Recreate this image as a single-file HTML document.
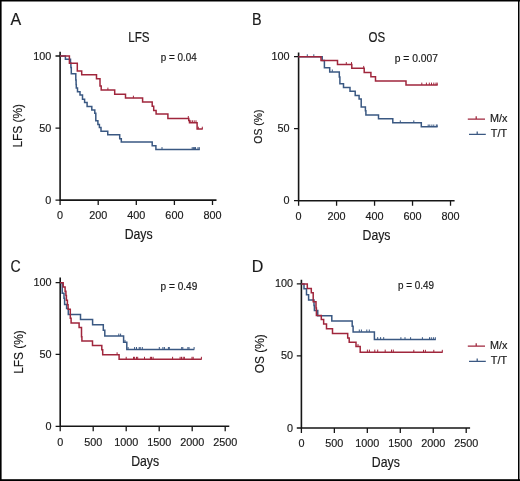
<!DOCTYPE html><html><head><meta charset="utf-8"><style>html,body{margin:0;padding:0;background:#fff;}svg{display:block;will-change:transform;} text{font-family:"Liberation Sans",sans-serif;fill:#1a1a1a;stroke:#1a1a1a;stroke-width:0.18px;}</style></head><body>
<svg width="520" height="481" viewBox="0 0 520 481">
<rect x="0" y="0" width="520" height="481" fill="#fff"/>
<path d="M60.1 51.8V200.1H216.5" fill="none" stroke="#161616" stroke-width="1.6"/>
<path d="M55.5 56.0H60.1M55.5 128.05H60.1M55.5 200.1H60.1M60.1 200.1V205.1M98.2 200.1V205.1M136.3 200.1V205.1M174.4 200.1V205.1M212.5 200.1V205.1" fill="none" stroke="#161616" stroke-width="1.3"/>
<text transform="translate(51.30 59.50) scale(0.92 1)" font-size="11.8" text-anchor="end">100</text>
<text transform="translate(51.30 131.55) scale(0.92 1)" font-size="11.8" text-anchor="end">50</text>
<text transform="translate(51.30 203.60) scale(0.92 1)" font-size="11.8" text-anchor="end">0</text>
<text transform="translate(60.10 219.20) scale(0.92 1)" font-size="11.8" text-anchor="middle">0</text>
<text transform="translate(98.20 219.20) scale(0.92 1)" font-size="11.8" text-anchor="middle">200</text>
<text transform="translate(136.30 219.20) scale(0.92 1)" font-size="11.8" text-anchor="middle">400</text>
<text transform="translate(174.40 219.20) scale(0.92 1)" font-size="11.8" text-anchor="middle">600</text>
<text transform="translate(212.50 219.20) scale(0.92 1)" font-size="11.8" text-anchor="middle">800</text>
<text transform="translate(10.50 25.00)" font-size="16" text-anchor="start">A</text>
<text transform="translate(138.90 41.50) scale(0.8 1)" font-size="14.6" text-anchor="middle">LFS</text>
<text transform="translate(160.70 61.30) scale(0.96 1)" font-size="10.3" text-anchor="start">p = 0.04</text>
<text transform="translate(138.60 238.50) scale(0.89 1)" font-size="13.8" text-anchor="middle">Days</text>
<text transform="translate(22.40 125.80) rotate(-90) scale(0.93 1)" font-size="12.8" text-anchor="middle">LFS (%)</text>
<path d="M60.1 56.1H65.4V59.3H70.5V63H70.9V67.5H71.3V73.7H75.8V80H76.1V84.6H76.3V87.9H77.5V91.8H80V95H82.5V99.2H84.6V102.5H87.1V106.5H91.8V110.1H94.8V113.3H95.8V120.8H97.9V124.4H99.4V127.5H101V131.2H107.75V134.8H119.7V138.7H121.3V142H152.2V145.8H155.9V149.5H199.8" fill="none" stroke="#3a5882" stroke-width="1.5" stroke-linejoin="miter" stroke-linecap="butt"/>
<path d="M162 149.5v-2.4 M192.2 149.5v-2.4 M193.4 149.5v-2.4 M194.6 149.5v-2.4 M195.5 149.5v-2.4 M198 149.5v-2.4 M199.3 149.5v-2.4" fill="none" stroke="#3a5882" stroke-width="1.0"/>
<path d="M60.1 56.1H69.4V63.3H77.3V71H81.7V74.8H96.5V78.7H100V86H101.2V90H114.7V94.2H125.5V98.1H142.6V102H152.2V106.2H153.7V110.4H156.1V114H167.9V118.4H188.75V120.5H189.5V122.7H197.1V129.1H202.7" fill="none" stroke="#a0263c" stroke-width="1.5" stroke-linejoin="miter" stroke-linecap="butt"/>
<path d="M107.9 90v-2.4 M133.4 98.1v-2.4 M188.3 118.4v-2.4 M190.8 122.7v-2.4 M192.4 122.7v-2.4 M194.2 122.7v-2.4 M196 122.7v-2.4 M198.3 129.1v-2.4 M202.3 129.1v-2.4" fill="none" stroke="#a0263c" stroke-width="1.0"/>
<path d="M298.6 52.6V200.7H454.6" fill="none" stroke="#161616" stroke-width="1.6"/>
<path d="M294.0 56.7H298.6M294.0 128.7H298.6M294.0 200.7H298.6M298.6 200.7V205.7M336.58000000000004 200.7V205.7M374.56 200.7V205.7M412.54 200.7V205.7M450.52 200.7V205.7" fill="none" stroke="#161616" stroke-width="1.3"/>
<text transform="translate(289.50 60.20) scale(0.92 1)" font-size="11.8" text-anchor="end">100</text>
<text transform="translate(289.50 132.20) scale(0.92 1)" font-size="11.8" text-anchor="end">50</text>
<text transform="translate(289.50 204.20) scale(0.92 1)" font-size="11.8" text-anchor="end">0</text>
<text transform="translate(298.60 219.70) scale(0.92 1)" font-size="11.8" text-anchor="middle">0</text>
<text transform="translate(336.58 219.70) scale(0.92 1)" font-size="11.8" text-anchor="middle">200</text>
<text transform="translate(374.56 219.70) scale(0.92 1)" font-size="11.8" text-anchor="middle">400</text>
<text transform="translate(412.54 219.70) scale(0.92 1)" font-size="11.8" text-anchor="middle">600</text>
<text transform="translate(450.52 219.70) scale(0.92 1)" font-size="11.8" text-anchor="middle">800</text>
<text transform="translate(252.00 25.00) scale(0.9 1)" font-size="16" text-anchor="start">B</text>
<text transform="translate(376.80 41.50) scale(0.79 1)" font-size="14.6" text-anchor="middle">OS</text>
<text transform="translate(394.70 61.90)" font-size="10.3" text-anchor="start">p = 0.007</text>
<text transform="translate(376.50 240.00) scale(0.89 1)" font-size="13.8" text-anchor="middle">Days</text>
<text transform="translate(261.70 126.60) rotate(-90)" font-size="10.4" text-anchor="middle">OS (%)</text>
<path d="M298.4 56.7H322.2V60.6H324.4V67.8H329.7V71.9H339.3V77H339.9V83.7H343.5V87.5H350V91.3H355.2V95.4H359.1V99H361.2V106.9H365.4V110.8H365.9V114.9H378.5V118.8H392.8V122.8H421.3V126.8H437.6" fill="none" stroke="#3a5882" stroke-width="1.5" stroke-linejoin="miter" stroke-linecap="butt"/>
<path d="M307.3 56.7v-2.4 M313.8 56.7v-2.4 M332.3 71.9v-2.4 M400.3 122.8v-2.4 M413.8 122.8v-2.4 M428.2 126.9v-2.4 M429.8 126.9v-2.4 M431.9 126.9v-2.4 M433.8 126.9v-2.4 M436.3 126.9v-2.4 M437.2 126.9v-2.4" fill="none" stroke="#3a5882" stroke-width="1.0"/>
<path d="M298.4 56.7H321.0V60.6H337.5V64.5H351.8V68.3H364.2V72.5H370.9V76.7H375.5V81H406V85H437.7" fill="none" stroke="#a0263c" stroke-width="1.5" stroke-linejoin="miter" stroke-linecap="butt"/>
<path d="M346.3 64.5v-2.4 M351.5 64.5v-2.4 M363.7 68.3v-2.4 M421.8 85v-2.4 M426.4 85v-2.4 M429.3 85v-2.4 M431.5 85v-2.4 M433.8 85v-2.4 M436 85v-2.4 M437.2 85v-2.4" fill="none" stroke="#a0263c" stroke-width="1.0"/>
<path d="M467.8 119.2H485M476.2 119.2v-2.9" fill="none" stroke="#a0263c" stroke-width="1.25"/>
<text transform="translate(490.00 122.20)" font-size="10.8" text-anchor="start">M/x</text>
<path d="M469 134.25H485.8M477.2 134.25v-2.8" fill="none" stroke="#3a5882" stroke-width="1.25"/>
<text transform="translate(490.80 137.15)" font-size="10.8" text-anchor="start">T/T</text>
<path d="M60.2 277.5V426.3H229.3" fill="none" stroke="#161616" stroke-width="1.6"/>
<path d="M55.6 282.6H60.2M55.6 354.45000000000005H60.2M55.6 426.3H60.2M60.2 426.3V431.3M93.2 426.3V431.3M126.2 426.3V431.3M159.2 426.3V431.3M192.2 426.3V431.3M225.2 426.3V431.3" fill="none" stroke="#161616" stroke-width="1.3"/>
<text transform="translate(51.50 286.10) scale(0.92 1)" font-size="11.8" text-anchor="end">100</text>
<text transform="translate(51.50 357.95) scale(0.92 1)" font-size="11.8" text-anchor="end">50</text>
<text transform="translate(51.50 429.80) scale(0.92 1)" font-size="11.8" text-anchor="end">0</text>
<text transform="translate(60.20 445.50) scale(0.92 1)" font-size="11.8" text-anchor="middle">0</text>
<text transform="translate(93.20 445.50) scale(0.92 1)" font-size="11.8" text-anchor="middle">500</text>
<text transform="translate(126.20 445.50) scale(0.92 1)" font-size="11.8" text-anchor="middle">1000</text>
<text transform="translate(159.20 445.50) scale(0.92 1)" font-size="11.8" text-anchor="middle">1500</text>
<text transform="translate(192.20 445.50) scale(0.92 1)" font-size="11.8" text-anchor="middle">2000</text>
<text transform="translate(225.20 445.50) scale(0.92 1)" font-size="11.8" text-anchor="middle">2500</text>
<text transform="translate(10.60 272.00) scale(0.88 1)" font-size="16" text-anchor="start">C</text>
<text transform="translate(160.60 289.50) scale(0.98 1)" font-size="10.3" text-anchor="start">p = 0.49</text>
<text transform="translate(145.10 465.90) scale(0.89 1)" font-size="13.8" text-anchor="middle">Days</text>
<text transform="translate(22.70 352.00) rotate(-90) scale(0.93 1)" font-size="12.8" text-anchor="middle">LFS (%)</text>
<path d="M60.2 282.7H62.2V293.3H64.0V298.3H64.6V304.4H66.6V308.5H68.3V314.6H80.5V319.6H92.6V324.8H103.3V330.2H104.8V336H123.6V342.3H126.8V349.4H194.3" fill="none" stroke="#3a5882" stroke-width="1.5" stroke-linejoin="miter" stroke-linecap="butt"/>
<path d="M118.8 336v-2.4 M120.6 336v-2.4 M125 342.3v-2.4 M128.1 349.4v-2.4 M134.6 349.4v-2.4 M136.5 349.4v-2.4 M139.2 349.4v-2.4 M140.2 349.4v-2.4 M142.3 349.4v-2.4 M159.3 349.4v-2.4 M162.9 349.4v-2.4 M164.4 349.4v-2.4 M168.4 349.4v-2.4 M169.3 349.4v-2.4 M181.7 349.4v-2.4 M182.8 349.4v-2.4 M187.9 349.4v-2.4 M189 349.4v-2.4 M194.1 349.4v-2.4" fill="none" stroke="#3a5882" stroke-width="1.0"/>
<path d="M60.2 282.7H63.2V286.9H65.1V291.2H65.9V295.5H66.4V300.2H67.4V304.7H68.1V309.2H70.3V318.3H71.1V322.9H79.1V327.5H81.5V336.7H81.9V341H92.5V345.5H101.8V349.8H102.7V354.7H119.1V359.2H201.7" fill="none" stroke="#a0263c" stroke-width="1.5" stroke-linejoin="miter" stroke-linecap="butt"/>
<path d="M117.1 354.7v-2.4 M126.2 359.2v-2.4 M133.5 359.2v-2.4 M134.6 359.2v-2.4 M136.5 359.2v-2.4 M137.7 359.2v-2.4 M144.5 359.2v-2.4 M150.4 359.2v-2.4 M151.5 359.2v-2.4 M153.1 359.2v-2.4 M172.6 359.2v-2.4 M180.1 359.2v-2.4 M181.5 359.2v-2.4 M183.2 359.2v-2.4 M184.4 359.2v-2.4 M192 359.2v-2.4 M193.2 359.2v-2.4 M201.4 359.2v-2.4" fill="none" stroke="#a0263c" stroke-width="1.0"/>
<path d="M301.4 279.7V428.0H470.1" fill="none" stroke="#161616" stroke-width="1.6"/>
<path d="M296.79999999999995 283.9H301.4M296.79999999999995 355.95H301.4M296.79999999999995 428.0H301.4M301.4 428.0V433.0M334.35999999999996 428.0V433.0M367.32 428.0V433.0M400.28 428.0V433.0M433.24 428.0V433.0M466.2 428.0V433.0" fill="none" stroke="#161616" stroke-width="1.3"/>
<text transform="translate(293.00 287.40) scale(0.92 1)" font-size="11.8" text-anchor="end">100</text>
<text transform="translate(293.00 359.45) scale(0.92 1)" font-size="11.8" text-anchor="end">50</text>
<text transform="translate(293.00 431.50) scale(0.92 1)" font-size="11.8" text-anchor="end">0</text>
<text transform="translate(301.40 447.00) scale(0.92 1)" font-size="11.8" text-anchor="middle">0</text>
<text transform="translate(334.36 447.00) scale(0.92 1)" font-size="11.8" text-anchor="middle">500</text>
<text transform="translate(367.32 447.00) scale(0.92 1)" font-size="11.8" text-anchor="middle">1000</text>
<text transform="translate(400.28 447.00) scale(0.92 1)" font-size="11.8" text-anchor="middle">1500</text>
<text transform="translate(433.24 447.00) scale(0.92 1)" font-size="11.8" text-anchor="middle">2000</text>
<text transform="translate(466.20 447.00) scale(0.92 1)" font-size="11.8" text-anchor="middle">2500</text>
<text transform="translate(251.80 271.60)" font-size="16" text-anchor="start">D</text>
<text transform="translate(398.10 289.00) scale(0.96 1)" font-size="10.3" text-anchor="start">p = 0.49</text>
<text transform="translate(385.80 467.00) scale(0.89 1)" font-size="13.8" text-anchor="middle">Days</text>
<text transform="translate(263.60 353.70) rotate(-90) scale(0.9 1)" font-size="13.2" text-anchor="middle">OS (%)</text>
<path d="M301.5 283.9H304V288.75H306.5V294.8H308.6V300H314V305.4H314.4V310.4H317.75V315.7H331.8V320.9H352.2V326.3H353.1V331.9H374.4V339.6H435.8" fill="none" stroke="#3a5882" stroke-width="1.5" stroke-linejoin="miter" stroke-linecap="butt"/>
<path d="M359.3 331.9v-2.4 M361.4 331.9v-2.4 M366.8 331.9v-2.4 M369.3 331.9v-2.4 M377.7 339.5v-2.4 M380.6 339.5v-2.4 M383.7 339.5v-2.4 M400.9 339.6v-2.4 M405 339.6v-2.4 M410.6 339.6v-2.4 M422.4 339.6v-2.4 M429.5 339.6v-2.4 M431.3 339.6v-2.4 M433.4 339.6v-2.4 M435.3 339.6v-2.4" fill="none" stroke="#3a5882" stroke-width="1.0"/>
<path d="M301.5 283.9H307.3V288.5H311.3V292.7H313.2V301.8H316.0V308H316.4V315.6H321.3V319.4H323.65V324H326.5V328.65H332.5V333.5H347.7V337.9H349.2V342.3H356V346.5H360.2V352.2H442.7" fill="none" stroke="#a0263c" stroke-width="1.5" stroke-linejoin="miter" stroke-linecap="butt"/>
<path d="M358 346.5v-2.4 M367.4 352v-2.4 M369.4 352v-2.4 M374.8 352v-2.4 M377.7 352v-2.4 M385.2 352v-2.4 M391.5 352v-2.4 M393.3 352v-2.4 M413.8 352.2v-2.4 M423.5 352.2v-2.4 M425.4 352.2v-2.4 M433.8 352.2v-2.4 M442.3 352.2v-2.4" fill="none" stroke="#a0263c" stroke-width="1.0"/>
<path d="M467.8 346.2H485M476.2 346.2v-2.9" fill="none" stroke="#a0263c" stroke-width="1.25"/>
<text transform="translate(490.00 349.20)" font-size="10.8" text-anchor="start">M/x</text>
<path d="M469 361.4H485.8M477.2 361.4v-2.8" fill="none" stroke="#3a5882" stroke-width="1.25"/>
<text transform="translate(490.80 364.30)" font-size="10.8" text-anchor="start">T/T</text>
<rect x="0" y="0" width="520" height="1.5" fill="#000"/><rect x="0" y="0" width="1.6" height="481" fill="#000"/><rect x="518" y="0" width="1.5" height="481" fill="#000"/><rect x="0" y="479.2" width="520" height="1.8" fill="#000"/>
</svg></body></html>
